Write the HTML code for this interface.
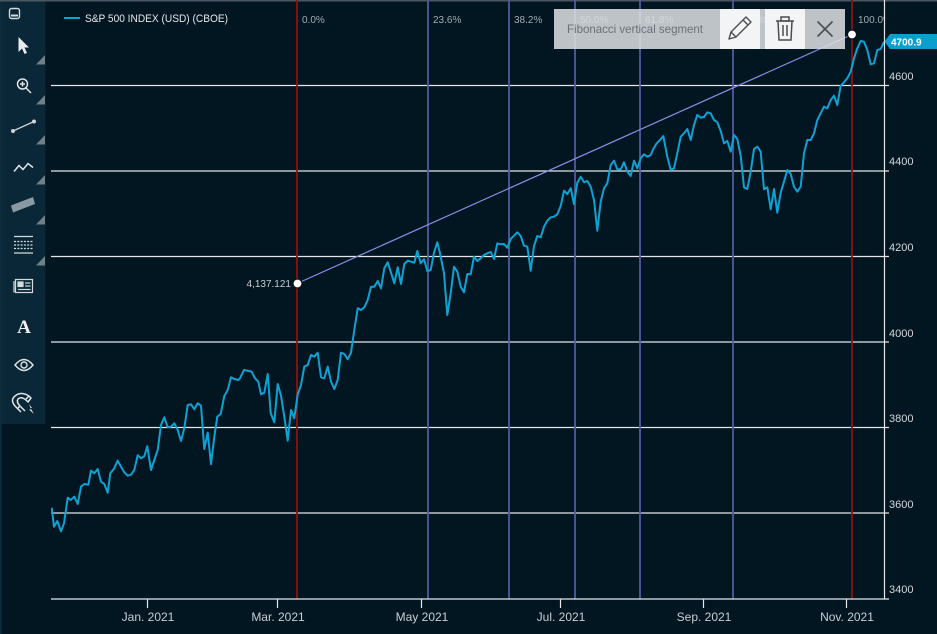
<!DOCTYPE html>
<html><head><meta charset="utf-8"><style>
html,body{margin:0;padding:0;background:#011621;}
svg{display:block;}
text{font-family:"Liberation Sans",sans-serif;}
</style></head><body>
<svg width="937" height="634" viewBox="0 0 937 634" xmlns="http://www.w3.org/2000/svg">
<defs>
<clipPath id="plot"><rect x="51" y="0" width="833" height="599"/></clipPath>
</defs>
<rect x="0" y="0" width="937" height="634" fill="#011621"/>
<rect x="0" y="0" width="937" height="1.5" fill="#4b5861"/>

<g stroke="#e4e6e8" stroke-width="1.2">
<line x1="51" y1="85.5" x2="889" y2="85.5"/>
<line x1="51" y1="171" x2="889" y2="171"/>
<line x1="51" y1="256.5" x2="889" y2="256.5"/>
<line x1="51" y1="342" x2="889" y2="342"/>
<line x1="51" y1="427.5" x2="889" y2="427.5"/>
<line x1="51" y1="513" x2="889" y2="513"/>
</g>

<g stroke-width="1.8">
<line x1="297" y1="0" x2="297" y2="599" stroke="#8c1212"/>
<line x1="428" y1="0" x2="428" y2="599" stroke="#505c9c"/>
<line x1="509" y1="0" x2="509" y2="599" stroke="#505c9c"/>
<line x1="575" y1="0" x2="575" y2="599" stroke="#505c9c"/>
<line x1="640" y1="0" x2="640" y2="599" stroke="#505c9c"/>
<line x1="733" y1="0" x2="733" y2="599" stroke="#505c9c"/>
<line x1="852" y1="0" x2="852" y2="599" stroke="#8c1212"/>
</g>

<g clip-path="url(#plot)" font-size="10" fill="#a3abb3">
<text x="302" y="23">0.0%</text>
<text x="433" y="23">23.6%</text>
<text x="514" y="23">38.2%</text>
<text x="580" y="23">50.0%</text>
<text x="645" y="23">61.8%</text>
<text x="738" y="23">78.6%</text>
<text x="858" y="23">100.0%</text>
</g>

<line x1="297" y1="283.5" x2="852" y2="34.5" stroke="#8c8ce6" stroke-width="1.2"/>

<polyline clip-path="url(#plot)" fill="none" stroke="#0ea2d4" stroke-width="2" stroke-linejoin="round" points="51.7,507.7 54,526.7 57.3,521 61,531.3 64,523.3 67.7,497.7 70.7,500 74.3,496.7 77.7,504 81,486.7 84.3,484 88.3,484.7 91,470.7 94.3,473.3 97.7,469 101,481.7 104.3,484 107.7,492.7 110.3,473.3 114,468.7 117.7,460.7 121,466.7 124.3,472.3 127.7,475.7 131,474.7 134.3,470 137.7,455.3 141,458.3 144.3,456.3 147.3,446.3 151,470 154.3,460 157.7,450 161,425 164.3,417.3 167.7,427.3 171,426.7 174.3,423.3 177.7,430 181,441 184.3,428.3 187.7,405 191,404.3 194.3,409.3 197.7,403.3 201,405.7 204.3,449 207.7,432.7 211,464.3 214.3,436.7 217.3,416.7 220.7,414 224.3,396 227.7,390 231,377.3 234.3,379 238.3,380 240,378.3 244,370 247.3,370.7 251.7,371.7 255,378.3 258.3,381.7 261,394.3 264.3,392.7 267.7,374 270.7,413.3 274.3,422.3 277.7,384 281,395.7 284.3,416.7 287.7,440.7 291,410 294.3,418.3 297.7,394.3 301,385 304.3,366.7 307.7,365 311,355 314.3,356.7 317.7,352.7 321,377.3 324.3,378.3 327.7,366.7 331,381.7 334.3,389 337.7,380 341,352.7 344.3,354 347.7,359.3 351,352.7 354.3,330 357.7,308.3 361,310 364.3,307.3 367.7,300 371,286.7 374.3,286.7 377.7,281 381,288.3 384.3,268.3 387.7,262.3 391,272.7 394.3,283.3 397.7,267.3 401,284 404.3,264 407.7,260.7 411,261.7 414.3,262.7 417.3,251 420.7,263.3 424,259.3 427.3,271 430.7,270 434,252.7 437.3,242.3 440,253.3 444,273.3 447.3,315 450.7,293.3 454,266.7 457.3,271.7 460.7,286.7 464,292.3 467.3,274 470.7,274.3 474,256.7 477.3,261 480.7,258.3 484,255 487.3,253.3 490.7,252 494,259 497.3,243.3 500.7,244.3 504,244 507.3,247.7 510.7,239 514,235.7 517.3,232.3 520.7,236 524,245.7 527.3,246.7 530.7,270.7 534,246 537.3,236 540.7,237.3 544,226.7 547.3,220.7 550.7,217.3 554,216.7 557.3,214.3 560.7,206 564,190.7 567.3,194 570.7,188.3 574,204 577.3,182.7 580.7,176.7 584,182.3 587.3,181 590.7,186.7 594,200 597.3,230.7 600.7,201.7 604,188.3 607.3,183.3 610.7,165 614,160.7 617.3,169.3 620.7,169.3 624,162.3 627.3,171.7 630.7,176 634,160.7 637.3,168.3 640.7,158.3 644,154.3 647.3,156.7 650.7,155 653.3,149 656.7,143.3 660,140 663.3,136 667.3,156.7 670.7,170 674,168.3 677.3,153.3 680.7,136.7 684,133.3 687.3,129 690.7,140 694,125 697.3,115 700.7,117.7 704,117 707.3,112.3 710.7,113.3 714,120 717.3,122.3 720.7,131 724,143.3 727.3,141 730.7,151.7 734,135 737.3,139 740.7,155.7 744,187.3 747.3,189 750.7,171.7 754,149 757.3,146.7 760.7,151.7 764,189.3 767.3,187.3 770.7,209.3 774,189 777.3,212.7 780.7,192.7 784,181.7 787.3,170 790.7,174 794,186.7 797.3,191.7 800.7,186.7 804,153.3 807.3,140 810.7,140 814,133.3 817.3,120 820.7,113.3 824,106.7 827.3,108.3 830.7,100 834,95.7 837.3,105 840.7,85.7 844,82.3 847.3,78.3 850.7,71.7 854,58.3 857.3,48.3 860.7,41 864,41.7 867.3,50 870.7,64.3 874,63.3 877.3,50 880.7,49 884,41.7"/>

<circle cx="297.5" cy="283.5" r="4.5" fill="#fff" stroke="#111" stroke-width="1.2"/>
<circle cx="852" cy="34.5" r="4.5" fill="#fff" stroke="#111" stroke-width="1.2"/>
<text x="291" y="287" font-size="10" fill="#c8ccd0" text-anchor="end">4,137.121</text>

<line x1="884.5" y1="0" x2="884.5" y2="599" stroke="#e4e6e8" stroke-width="1.2"/>
<line x1="51" y1="599" x2="889" y2="599" stroke="#e4e6e8" stroke-width="1.2"/>
<g stroke="#e4e6e8" stroke-width="1.2">
<line x1="147.5" y1="599" x2="147.5" y2="608"/>
<line x1="277.5" y1="599" x2="277.5" y2="608"/>
<line x1="421.5" y1="599" x2="421.5" y2="608"/>
<line x1="560.5" y1="599" x2="560.5" y2="608"/>
<line x1="703.5" y1="599" x2="703.5" y2="608"/>
<line x1="846.5" y1="599" x2="846.5" y2="608"/>
</g>
<g font-size="12" fill="#c9ced3" text-anchor="middle">
<text x="148" y="621">Jan. 2021</text>
<text x="278" y="621">Mar. 2021</text>
<text x="422" y="621">May 2021</text>
<text x="561" y="621">Jul. 2021</text>
<text x="704" y="621">Sep. 2021</text>
<text x="847" y="621">Nov. 2021</text>
</g>
<g font-size="11" fill="#d4d8dc">
<text x="889" y="80">4600</text>
<text x="889" y="165">4400</text>
<text x="889" y="251">4200</text>
<text x="889" y="337">4000</text>
<text x="889" y="422">3800</text>
<text x="889" y="508">3600</text>
<text x="889" y="593">3400</text>
</g>

<polygon points="884.5,41.5 890,34 937,34 937,49 890,49" fill="#0a9fcf"/>
<text x="891" y="45.5" font-size="10" font-weight="bold" fill="#ffffff">4700.9</text>

<line x1="64" y1="18" x2="80" y2="18" stroke="#0ea2d4" stroke-width="2"/>
<text x="85" y="22" font-size="11" fill="#e6e8ea" textLength="143" lengthAdjust="spacingAndGlyphs">S&amp;P 500 INDEX (USD) (CBOE)</text>

<rect x="554" y="9" width="291" height="40" fill="#dde0e3" fill-opacity="0.86"/>
<text x="567" y="33" font-size="12" fill="#6b7077" textLength="136" lengthAdjust="spacingAndGlyphs">Fibonacci vertical segment</text>
<rect x="720" y="9" width="40" height="40" fill="#f3f4f5"/>
<rect x="765" y="9" width="40" height="40" fill="#f3f4f5"/>
<g fill="none" stroke="#4a4d52" stroke-width="1.4" stroke-linejoin="round">
<polygon points="729,39 731,32 746,17 751,22 736,37"/>
<line x1="731" y1="32" x2="736" y2="37"/>
<line x1="743" y1="20" x2="748" y2="25"/>
</g>
<g fill="none" stroke="#4a4d52" stroke-width="1.5">
<line x1="776" y1="21" x2="794" y2="21"/>
<rect x="781" y="17" width="8" height="4"/>
<path d="M778,21 L779,40 L791,40 L792,21"/>
<line x1="783" y1="25" x2="783" y2="36"/>
<line x1="787" y1="25" x2="787" y2="36"/>
</g>
<g stroke="#4a4d52" stroke-width="1.6">
<line x1="817.5" y1="21.5" x2="832.5" y2="36.5"/>
<line x1="832.5" y1="21.5" x2="817.5" y2="36.5"/>
</g>

<rect x="0" y="0" width="45.5" height="424" fill="#092736"/>
<rect x="0" y="0" width="1.5" height="634" fill="#0d2c3b"/>
<rect x="0" y="0" width="45.5" height="1.5" fill="#4b5861"/>
<g fill="#6f808b">
<polygon points="45,55 45,64.5 36,64.5"/>
<polygon points="45,95 45,104.5 36,104.5"/>
<polygon points="45,135 45,144.5 36,144.5"/>
<polygon points="45,175 45,184.5 36,184.5"/>
<polygon points="45,215 45,224.5 36,224.5"/>
<polygon points="45,256 45,265.5 36,265.5"/>
</g>
<g fill="none" stroke="#d6dadd" stroke-width="1.4">
<rect x="9.5" y="8.5" width="10" height="10" rx="2"/>
<line x1="11" y1="15.5" x2="18" y2="15.5" stroke-width="2"/>
</g>
<polygon points="18.5,37 18.5,52 22,48.5 24.5,54 27,53 24.5,47.5 29,47.5" fill="#e8eaec"/>
<g fill="none" stroke="#e0e3e6" stroke-width="1.5">
<circle cx="22.5" cy="84" r="5"/>
<line x1="26" y1="88" x2="31" y2="93"/>
<line x1="20" y1="84" x2="25" y2="84"/>
<line x1="22.5" y1="81.5" x2="22.5" y2="86.5"/>
</g>
<line x1="13" y1="131" x2="34" y2="121.5" stroke="#d0d4d8" stroke-width="1.3"/>
<circle cx="13" cy="131" r="2" fill="#d0d4d8"/>
<circle cx="34" cy="121.5" r="2" fill="#d0d4d8"/>
<polyline points="14,171.5 19,165.5 23,169.5 28,163.5 33,167.5" fill="none" stroke="#e0e3e6" stroke-width="1.5"/>
<polygon points="11,205.5 33,197 35,204 13,212.5" fill="#8a9aa4"/>
<g stroke="#d6dadd" stroke-width="1.2">
<line x1="14" y1="236.5" x2="33" y2="236.5"/>
<line x1="14" y1="253" x2="33" y2="253"/>
<line x1="14" y1="241.5" x2="33" y2="241.5" stroke-dasharray="2,1.3"/>
<line x1="14" y1="245" x2="33" y2="245" stroke-dasharray="2,1.3"/>
<line x1="14" y1="248.5" x2="33" y2="248.5" stroke-dasharray="2,1.3"/>
</g>
<g fill="none" stroke="#d6dadd" stroke-width="1.2">
<rect x="15.5" y="279.5" width="17" height="13"/>
<line x1="14" y1="281" x2="14" y2="292.5"/>
<rect x="18" y="282" width="5" height="4.5" fill="#d6dadd"/>
<line x1="25" y1="283" x2="30.5" y2="283"/>
<line x1="25" y1="286" x2="30.5" y2="286"/>
<line x1="18" y1="289.5" x2="30.5" y2="289.5"/>
</g>
<text x="24" y="333" font-weight="bold" font-size="19" fill="#eef0f2" text-anchor="middle" style="font-family:'Liberation Serif',serif">A</text>
<g fill="none" stroke="#e0e3e6" stroke-width="1.4">
<path d="M15,365 Q24,354 33,365 Q24,376 15,365 Z"/>
<circle cx="24" cy="365" r="3"/>
</g>
<g fill="none" stroke="#e0e3e6" stroke-width="1.5" stroke-linejoin="round">
<path d="M21,412 L15,406 Q10,400 15,396 Q21,391 29,396 L31,398 L28,402 L26,400 Q21,396 18,399 Q16,402 20,406 L25,411"/>
<line x1="17" y1="409" x2="20" y2="406"/>
<line x1="26" y1="399" x2="29" y2="396"/>
</g>
<polygon points="29,404 32,408 30.5,408 34,414 29,409.5 31,409.5" fill="#e0e3e6"/>
</svg>
</body></html>
